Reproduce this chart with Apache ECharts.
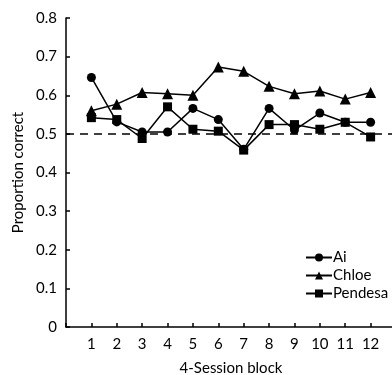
<!DOCTYPE html>
<html>
<head>
<meta charset="utf-8">
<script src="https://cdn.jsdelivr.net/npm/echarts@6/dist/echarts.min.js"></script>
<style>
	html, body { margin: 0; padding: 0; background: #fff; }
	#chart { width: 392px; height: 375px; }
</style>
</head>
<body>
<div id="chart"></div>
<script>
// 4-session blocks and proportion correct per subject
const blocks = [1, 2, 3, 4, 5, 6, 7, 8, 9, 10, 11, 12]
const ai = [0.646, 0.531, 0.505, 0.505, 0.566, 0.537, 0.460, 0.566, 0.510, 0.554, 0.530, 0.530]
const chloe = [0.560, 0.577, 0.607, 0.604, 0.600, 0.673, 0.662, 0.623, 0.604, 0.611, 0.590, 0.607]
const pendesa = [0.542, 0.537, 0.488, 0.570, 0.512, 0.507, 0.458, 0.524, 0.524, 0.512, 0.530, 0.492]
const chance = 0.5

const font = 'Lato'
const ink = '#000'

function pairs(vals) { return blocks.map((b, i) => [b, vals[i]]) }

function line(name, vals, symbol, size) {
	return {
		name,
		type: 'line',
		data: pairs(vals),
		symbol,
		symbolSize: size,
		lineStyle: { color: ink, width: 1.5 },
		itemStyle: { color: ink },
		z: 3,
	}
}

const chart = echarts.init(document.getElementById('chart'))
let series = [
	line('Ai', ai, 'circle', 9),
	line('Chloe', chloe, 'triangle', 11),
	line('Pendesa', pendesa, 'rect', 9),
]
series[0].markLine = {
	silent: true,
	symbol: 'none',
	label: { show: false },
	lineStyle: { color: ink, type: [8, 6], width: 1.5 },
	data: [{ yAxis: chance }],
}

chart.setOption({
	animation: false,
	backgroundColor: '#fff',
	grid: { left: 66, right: -4, top: 18, bottom: 48, containLabel: false, outerBoundsMode: 'none' },
	legend: {
		orient: 'vertical',
		left: 300,
		top: 245,
		itemWidth: 26,
		itemHeight: 10,
		itemGap: 3,
		textStyle: { color: ink, fontFamily: font, fontSize: 15, padding: [0, 0, 0, -4] },
		data: ['Ai', 'Chloe', 'Pendesa'],
	},
	xAxis: {
		type: 'value',
		min: 0,
		max: 13,
		interval: 1,
		name: '4-Session block',
		nameLocation: 'middle',
		nameGap: 34,
		nameTextStyle: { color: ink, fontFamily: font, fontSize: 15 },
		axisLine: { lineStyle: { color: ink, width: 1.5 } },
		axisTick: { inside: true, length: 4, lineStyle: { color: ink, width: 1.5 } },
		axisLabel: {
			color: ink, fontFamily: font, fontSize: 15, margin: 10,
			formatter: v => (v >= 1 && v <= 12 ? String(v) : ''),
		},
		splitLine: { show: false },
	},
	yAxis: {
		type: 'value',
		min: 0,
		max: 0.8,
		interval: 0.1,
		name: 'Proportion correct',
		nameLocation: 'middle',
		nameGap: 37,
		nameTextStyle: { color: ink, fontFamily: font, fontSize: 15 },
		axisLine: { show: true, lineStyle: { color: ink, width: 1.5 } },
		axisTick: { show: true, inside: true, length: 4, lineStyle: { color: ink, width: 1.5 } },
		axisLabel: {
			color: ink, fontFamily: font, fontSize: 15, margin: 9,
			formatter: v => (v === 0 ? '0' : v.toFixed(1)),
		},
		splitLine: { show: false },
	},
	series,
})
</script>
</body>
</html>
